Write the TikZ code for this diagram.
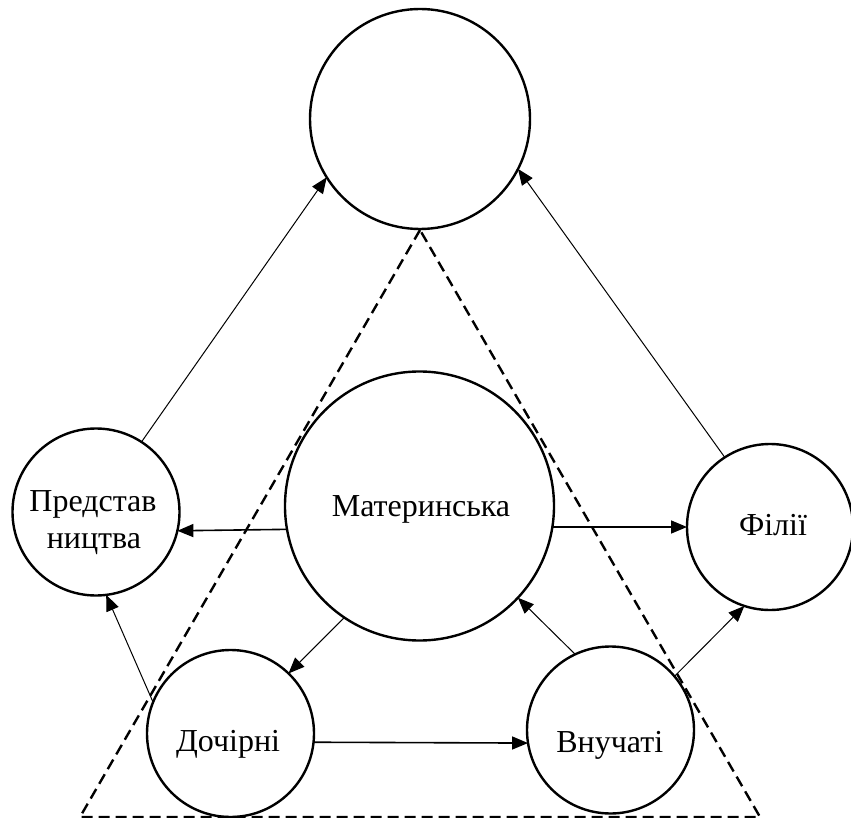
\documentclass[tikz,border=0pt]{standalone}
\usepackage{fontspec}
\setmainfont{Liberation Serif}
\usetikzlibrary{arrows.meta}
\begin{document}
\begin{tikzpicture}[x=1pt,y=-1pt,
  circ/.style={draw,circle,line width=2.4pt,inner sep=0pt,outer sep=0pt},
  lbl/.style={anchor=base,inner sep=0pt,font=\fontsize{32}{36}\selectfont},
  arr/.style={-{Triangle[length=16pt,width=13pt]},line width=1pt},
  arrb/.style={arr,line width=1.6pt},
  tri/.style={dash pattern=on 11pt off 6pt,line width=2.4pt}]
\useasboundingbox (0,0) rectangle (851,818);
% triangle
\coordinate (ta) at (420,230);
\coordinate (tl) at (80,817);
\coordinate (tr) at (760,817);
\draw[tri] (ta) -- (tl) -- (tr) -- cycle;
% circles
\node[circ,minimum size=220pt] (top) at (420,119) {};
\node[circ,minimum size=269pt] (mat) at (419.5,506) {};
\node[circ,minimum size=167pt] (pred) at (96,512) {};
\node[circ,minimum size=166pt] (fil) at (770,527) {};
\node[circ,minimum size=167pt] (doch) at (230.5,733.5) {};
\node[circ,minimum size=167pt] (vnu) at (610.5,730) {};
% labels
\node[lbl] (tmat) at (421,516.7) {Материнська};
\node[lbl] (tpred1) at (93,511) {Представ};
\node[lbl] (tpred2) at (94,548) {ництва};
\node[lbl] (tfil) at (773,535) {Філії};
\node[lbl] (tdoch) at (228,751.7) {Дочірні};
\node[lbl] (tvnu) at (609.7,752.7) {Внучаті};
% connectors
\draw[arr] (pred.57) -- (top.212);
\draw[arr] (fil.123) -- (top.333);
\draw[arrb] (mat.190) -- (pred.347);
\draw[arrb] (mat.351) -- (fil.180);
\draw[arr] (mat.236) -- (doch.46);
\draw[arr] (vnu.115) -- (mat.317);
\draw[arr] (vnu.40) -- (fil.252);
\draw[arr] (doch.158) -- (pred.277);
\draw[arrb] (doch.354) -- (vnu.189);
\end{tikzpicture}
\end{document}
